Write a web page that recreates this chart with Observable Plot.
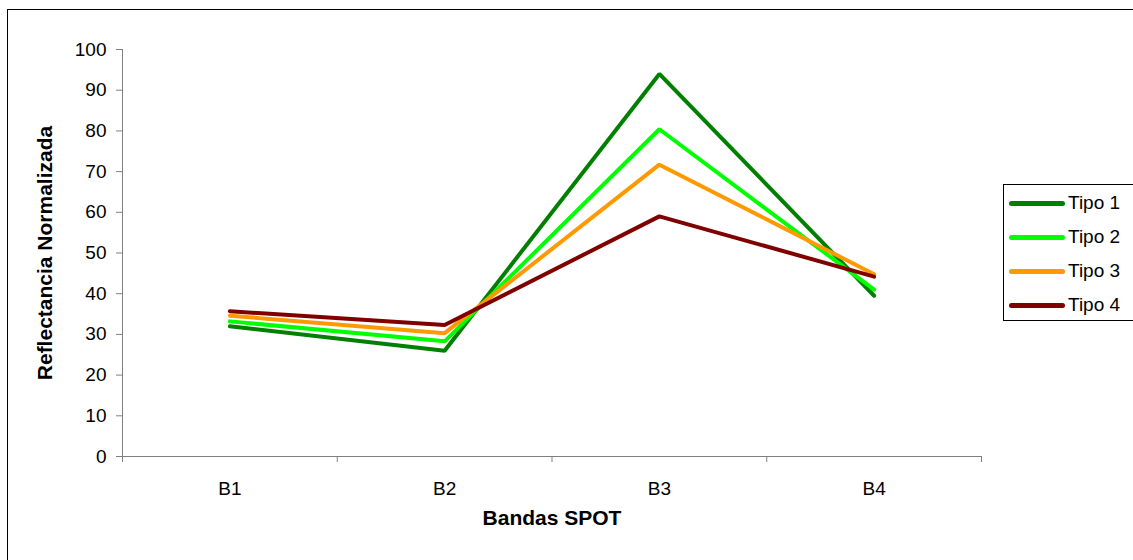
<!DOCTYPE html>
<html><head><meta charset="utf-8">
<script src="https://cdn.jsdelivr.net/npm/d3@7"></script>
<script src="https://cdn.jsdelivr.net/npm/@observablehq/plot@0.6"></script>
<style>
body{margin:0;background:#fff;font-family:"Liberation Sans",Arial,sans-serif;}
#wrap{position:relative;width:1133px;height:560px;overflow:hidden;}
#frame{position:absolute;left:7px;top:9px;width:1200px;height:600px;border:1px solid #000;box-sizing:border-box;pointer-events:none;}
#chart{position:absolute;left:0;top:0;}
#legend{position:absolute;left:1003px;top:184px;width:200px;height:137px;border:1px solid #000;box-sizing:border-box;background:#fff;padding-top:1px;}
.item{display:flex;align-items:center;height:34px;font-size:19px;color:#000;}
.sw{width:56px;height:5px;border-radius:3px;margin-left:5px;margin-right:3px;}
</style></head>
<body>
<div id="wrap"><div id="chart"></div><div id="frame"></div><div id="legend"></div></div>
<script>
const bands = ["B1", "B2", "B3", "B4"];
const series = ["Tipo 1", "Tipo 2", "Tipo 3", "Tipo 4"];
const tipo1 = [32.0, 26.0, 94.0, 39.5];
const tipo2 = [33.2, 28.3, 80.4, 41.0];
const tipo3 = [34.6, 30.3, 71.7, 44.8];
const tipo4 = [35.7, 32.3, 59.0, 44.2];
const colors = ["#008000", "#00ff00", "#ff9900", "#800000"];
const yTicks = [0, 10, 20, 30, 40, 50, 60, 70, 80, 90, 100];
const bandIndex = [0, 1, 2, 3];
const bandEdges = [-0.5, 0.5, 1.5, 2.5, 3.5];

const values = [tipo1, tipo2, tipo3, tipo4];
const rows = [];
series.forEach((s, k) => bandIndex.forEach(i => rows.push({i, v: values[k][i], s})));

const axisColor = "#808080";
const plot = Plot.plot({
  width: 1133, height: 560,
  marginLeft: 122, marginRight: 152, marginTop: 49, marginBottom: 104,
  style: {fontFamily: "Liberation Sans, Arial, sans-serif", fontSize: "19px", color: "#000", background: "transparent"},
  x: {domain: [bandEdges[0], bandEdges[bandEdges.length - 1]], axis: null},
  y: {domain: [0, 100], axis: null},
  color: {domain: series, range: colors},
  marks: [
    Plot.axisY({ticks: yTicks, tickSize: 6, tickPadding: 10, label: null, stroke: axisColor, fill: "#000", fontSize: 19}),
    Plot.axisX({ticks: bandEdges, tickFormat: () => "", tickSize: 6, label: null, stroke: axisColor}),
    Plot.axisX({ticks: bandIndex, tickFormat: i => bands[i], tickSize: 0, tickPadding: 25, label: null, fill: "#000", fontSize: 19}),
    Plot.ruleX([bandEdges[0]], {stroke: axisColor}),
    Plot.ruleY([0], {stroke: axisColor}),
    Plot.line(rows, {x: "i", y: "v", z: "s", stroke: "s", strokeWidth: 4, strokeLinejoin: "miter", strokeLinecap: "round"}),
    Plot.text(["Reflectancia Normalizada"], {frameAnchor: "left", dx: -77, rotate: -90, textAnchor: "middle", fontWeight: "bold", fontSize: 21, fill: "#000"}),
    Plot.text(["Bandas SPOT"], {frameAnchor: "bottom", dy: 68, textAnchor: "middle", fontWeight: "bold", fontSize: 21, fill: "#000"})
  ]
});
document.getElementById("chart").appendChild(plot);

const legend = document.getElementById("legend");
series.forEach((s, k) => {
  const d = document.createElement("div");
  d.className = "item";
  d.innerHTML = `<span class="sw" style="background:${colors[k]}"></span><span>${s}</span>`;
  legend.appendChild(d);
});
</script>
</body></html>
